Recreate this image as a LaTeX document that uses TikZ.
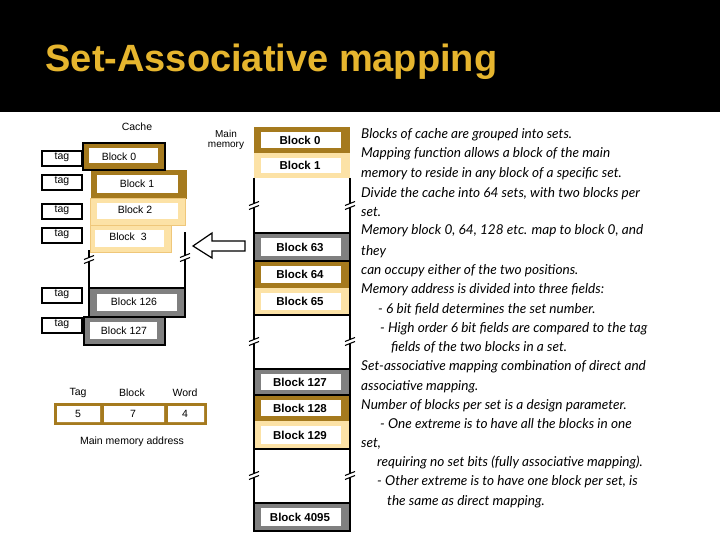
\documentclass[tikz,border=0pt]{standalone}
\usepackage{fontspec}
\setmainfont{Liberation Sans}
\newfontfamily\notefont{Lato}
\definecolor{dgold}{HTML}{A57A1E}
\definecolor{lgold}{HTML}{FCE2A6}
\definecolor{lgoldb}{HTML}{EFC77A}
\definecolor{mgray}{HTML}{808080}
\definecolor{ttl}{HTML}{E6B52E}
\tikzset{
 blk/.style={draw=#1,fill=#1,line width=0.6pt},
 tagbox/.style={draw=black,line width=1.2pt,fill=white},
 inner/.style={fill=white,draw=none},
 small/.style={font=\fontsize{10.5}{12}\selectfont},
 mlab/.style={font=\fontsize{11.5}{13}\selectfont\bfseries},
 note/.style={anchor=base west,inner sep=0pt,font=\notefont\itshape\fontsize{13.6}{15}\selectfont},
 vline/.style={line width=1.3pt},
}
\newcommand{\brk}[2]{\fill[white](#1-5,#2-2) rectangle (#1+5,#2+3);
 \draw[line width=1.1pt](#1-5,#2+0.5)--(#1+5,#2-3.5);\draw[line width=1.1pt](#1-5,#2+4.5)--(#1+5,#2+0.5);}
\begin{document}
\begin{tikzpicture}[x=1pt,y=-1pt]
\useasboundingbox (0,0) rectangle (720,540);
\fill[white](0,0) rectangle (720,540);
\fill[black](0,0) rectangle (720,112);
\node[anchor=west,text=ttl,font=\fontsize{38}{40}\selectfont\bfseries] (title) at (42,62) {Set-Associative mapping};
% cache
\node[small] (cl) at (137,127) {Cache};
\node[small,align=center,font=\fontsize{10}{10}\selectfont] (ml) at (226,140) {Main\\memory};
% vertical cache lines
\draw[vline] (89,250)--(89,290); \draw[vline] (185,232)--(185,290);
\brk{89}{259} \brk{185}{257}
% cache blocks
\path[blk=dgold] (91,170) rectangle (186,198); \path[inner](97,175) rectangle (178,193);
\node[small] (c1) at (137,184) {Block 1};
\path[blk=lgold,draw=lgoldb] (90,198) rectangle (185,225); \path[inner](97,203) rectangle (178,219);
\node[small] (c2) at (135,210) {Block 2};
\path[blk=lgold,draw=lgoldb] (90,225) rectangle (171,252); \path[inner](95,230) rectangle (164,247);
\node[small] (c3) at (128,237) {Block \ 3};
\path[blk=dgold,draw=black,line width=1.2pt] (83,143) rectangle (165,170); \path[inner](89,148) rectangle (158,163);
\node[small] (c0) at (119,157) {Block 0};
\path[blk=mgray,draw=black,line width=1.2pt] (89,288) rectangle (185,317); \path[inner](97,294) rectangle (177,311);
\node[small] (c126) at (134,302) {Block 126};
\path[blk=mgray,draw=black,line width=1.2pt] (84,317) rectangle (165,345); \path[inner](90,322) rectangle (157,339);
\node[small] (c127) at (124,331) {Block 127};
\foreach \y/\n in {151/t0,175/t1,204/t2,228/t3,288/t4,318/t5}{
 \draw[tagbox] (42,\y) rectangle (82,\y+15);
 \node[small] (\n) at (62,\y+6) {tag};}
% arrow
\draw[line width=1.2pt,fill=white] (245,241)--(212,241)--(212,233)--(193,246)--(212,258)--(212,251)--(245,251)--cycle;
% memory
\draw[vline] (254,178)--(254,233) (350,178)--(350,233) (254,315)--(254,369) (350,315)--(350,369) (254,449)--(254,503) (350,449)--(350,503);
\brk{254}{205}\brk{350}{205}\brk{254}{341}\brk{350}{341}\brk{254}{475}\brk{350}{475}
\foreach \a/\b/\c/\t/\n in {127/153/dgold/Block 0/m0,153/178/lgold/Block 1/m1,233/261/mgray/Block 63/m63,261/288/dgold/Block 64/m64,288/315/lgold/Block 65/m65,369/395/mgray/Block 127/m127,395/421/dgold/Block 128/m128,421/449/lgold/Block 129/m129,503/531/mgray/Block 4095/m4095}{
 \path[fill=\c] (254,\a) rectangle (350,\b);
 \path[inner] (261,\a+5) rectangle (341,\b-5);
 \node[mlab] (\n) at (300,{(\a+\b)/2}) {\t};}
\draw[line width=1.2pt] (254,233)--(350,233) (254,261)--(350,261) (254,315)--(350,315) (254,369)--(350,369) (254,395)--(350,395) (254,449)--(350,449) (254,503)--(350,503) (254,531)--(350,531);
\draw[line width=1.2pt] (254,233) rectangle (350,261) (254,369) rectangle (350,395) (254,503) rectangle (350,531);
\draw[line width=1.2pt] (254,395)--(254,449) (350,395)--(350,449);
\draw[line width=1.2pt] (254,261)--(254,315) (350,261)--(350,315);
% address
\path[fill=dgold] (54,403) rectangle (207,425);
\path[inner] (57,406) rectangle (100,422) (104,406) rectangle (164,422) (168,406) rectangle (204,422);
\node[small] (a1) at (78,414) {5}; \node[small] (a2) at (133,414) {7}; \node[small] (a3) at (185,414) {4};
\node[small] (h1) at (78,393) {Tag}; \node[small] (h2) at (132,393) {Block}; \node[small] (h3) at (185,393) {Word};
\node[small] (mma) at (132,442) {Main memory address};
% notes
\foreach \x/\y/\t in {361/139/Blocks of cache are grouped into sets.,
361/158/Mapping function allows a block of the main,
361/178/memory to reside in any block of a specific set.,
361/197/{Divide the cache into 64 sets, with two blocks per},
361/216/set.,
361/235/{Memory block 0, 64, 128 etc. map to block 0, and},
361/255/they,
361/274/can occupy either of the two positions.,
361/293/Memory address is divided into three fields:,
378/313/- 6 bit field determines the set number.,
380/332/- High order 6 bit fields are compared to the tag,
391/351/fields of the two blocks in a set.,
361/370/Set-associative mapping combination of direct and,
361/390/associative mapping.,
361/409/Number of blocks per set is a design parameter.,
380/428/- One extreme is to have all the blocks in one,
361/447/{set,},
377/466/requiring no set bits (fully associative mapping).,
377/485/{- Other extreme is to have one block per set, is},
387/505/the same as direct mapping.}
 \node[note] at (\x,\y) {\t};
\end{tikzpicture}
\end{document}
